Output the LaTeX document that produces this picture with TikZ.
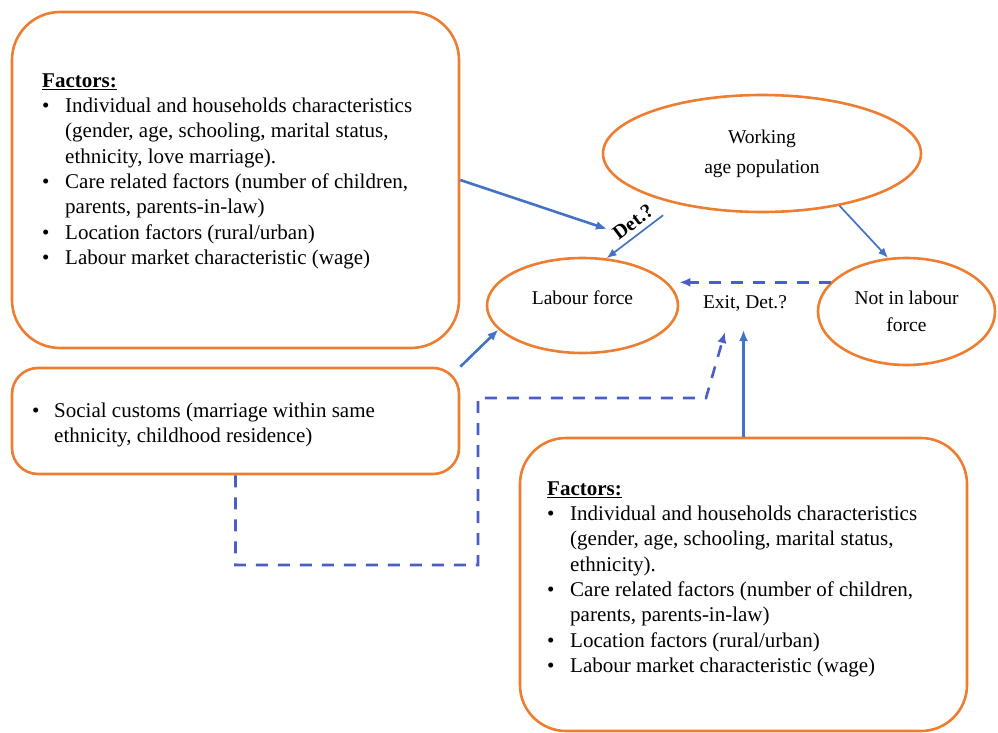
\documentclass[tikz,border=0pt]{standalone}
\usepackage{fontspec}
\setmainfont{Liberation Serif}
\usetikzlibrary{arrows.meta,positioning,calc,shapes.geometric}
\definecolor{lforange}{HTML}{ED7D31}
\definecolor{lfblue}{HTML}{4472C4}
\definecolor{lfdashblue}{HTML}{4A5EC8}
\tikzset{
  factorbox/.style={draw=lforange, line width=2.6pt, rounded corners=#1, inner sep=0pt},
  factortext/.style={inner sep=0pt, anchor=north west, font=\fontsize{21}{25.3}\selectfont},
  stateellipse/.style={ellipse, draw=lforange, line width=2.6pt, inner sep=0pt, align=center, font=\fontsize{19.5}{30}\selectfont},
  flowarrow/.style={-{Latex[length=11pt,width=9pt]}, draw=lfblue, line width=2.6pt},
  flowthin/.style={-{Latex[length=10pt,width=8pt]}, draw=lfblue, line width=1.7pt},
  flowdashed/.style={-{Latex[length=11pt,width=9pt]}, draw=lfdashblue, line width=2.6pt, dash pattern=on 12pt off 10pt},
  flowlabel/.style={inner sep=1pt, font=\fontsize{19.5}{24}\selectfont}
}

\begin{document}
\begin{tikzpicture}[x=1pt, y=-1pt]
  \useasboundingbox (0,0) rectangle (998,733);

  % boxes with factors
  \node[factorbox=48pt, minimum width=447pt, minimum height=336pt] (boxa) at (235.5,180) {};
  \node[factorbox=26pt, minimum width=447pt, minimum height=106pt] (boxb) at (235.5,421) {};
  \node[factorbox=46pt, minimum width=447pt, minimum height=293pt] (boxc) at (743.5,584.5) {};

  \node[factortext] (texta) at (42,69.3) {%
    \begin{tabular}{@{}p{23pt}@{}l@{}}
      \multicolumn{2}{@{}l@{}}{\underline{\textbf{Factors:}}}\\
      \textbullet & Individual and households characteristics\\
                  & (gender, age, schooling, marital status,\\
                  & ethnicity, love marriage).\\
      \textbullet & Care related factors (number of children,\\
                  & parents, parents-in-law)\\
      \textbullet & Location factors (rural/urban)\\
      \textbullet & Labour market characteristic (wage)
    \end{tabular}};
  \node[factortext] (textb) at (32,399.3) {%
    \begin{tabular}{@{}p{22pt}@{}l@{}}
      \textbullet & Social customs (marriage within same\\
                  & ethnicity, childhood residence)
    \end{tabular}};
  \node[factortext] (textc) at (547,477.3) {%
    \begin{tabular}{@{}p{23pt}@{}l@{}}
      \multicolumn{2}{@{}l@{}}{\underline{\textbf{Factors:}}}\\
      \textbullet & Individual and households characteristics\\
                  & (gender, age, schooling, marital status,\\
                  & ethnicity).\\
      \textbullet & Care related factors (number of children,\\
                  & parents, parents-in-law)\\
      \textbullet & Location factors (rural/urban)\\
      \textbullet & Labour market characteristic (wage)
    \end{tabular}};

  % labour market states
  \node[stateellipse, minimum width=318pt, minimum height=117pt] (work) at (762,153.5) {Working\\age population};
  \node[stateellipse, minimum width=191pt, minimum height=95pt, text depth=15pt] (lf) at (582.5,305.5) {Labour force};
  \node[stateellipse, minimum width=177pt, minimum height=107pt, font=\fontsize{19.5}{27}\selectfont] (nilf) at (906.5,311.5) {Not in labour\\force};
  \node[flowlabel] (exit) at (745,304) {Exit, Det.?};
  \node[flowlabel, rotate=37, font=\bfseries\fontsize{20}{24}\selectfont] (det) at (633,222) {Det.?};

  \coordinate (detin) at (607,229);
  \coordinate (exitin) at (743.5,330);
  \coordinate (dashlow) at (478,565);
  \coordinate (dashbend) at (706,398);
  \coordinate (dashin) at (725,332);

  \draw[flowarrow] (boxa.east) -- (detin);
  \draw[flowthin, shorten <=18pt] (work.211) -- (lf.63);
  \draw[flowthin] (work.326) -- (nilf.109);
  \draw[flowdashed] (nilf.159) -- (nilf.159 -| lf.east);
  \draw[flowarrow] (boxb.north east) -- (lf.196);
  \draw[flowarrow] (boxc.north) -- (exitin);
  \draw[flowdashed] (boxb.south) |- (dashlow) |- (dashbend) -- (dashin);
\end{tikzpicture}
\end{document}
